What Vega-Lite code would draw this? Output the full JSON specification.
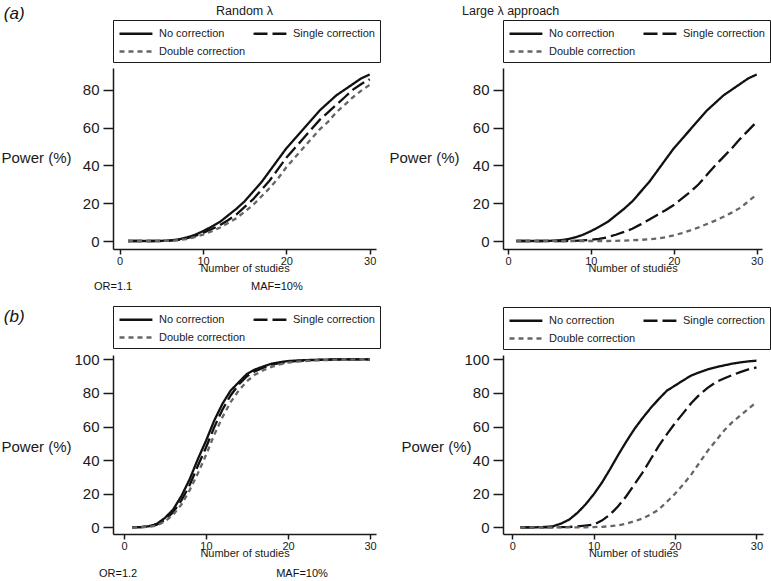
{
 "$schema": "https://vega.github.io/schema/vega-lite/v6.json",
 "padding": {"left": 0, "top": 4, "right": 5, "bottom": 5},
 "background": "white",
 "datasets": {
  "tl": [
   {"study":1,"No correction":0,"Single correction":0,"Double correction":0},
   {"study":2,"No correction":0,"Single correction":0,"Double correction":0},
   {"study":3,"No correction":0,"Single correction":0,"Double correction":0},
   {"study":4,"No correction":0,"Single correction":0,"Double correction":0},
   {"study":5,"No correction":0.1,"Single correction":0,"Double correction":0},
   {"study":6,"No correction":0.3,"Single correction":0.2,"Double correction":0.1},
   {"study":7,"No correction":0.8,"Single correction":0.6,"Double correction":0.4},
   {"study":8,"No correction":1.8,"Single correction":1.4,"Double correction":1},
   {"study":9,"No correction":3.2,"Single correction":2.6,"Double correction":2},
   {"study":10,"No correction":5.2,"Single correction":4.3,"Double correction":3.4},
   {"study":11,"No correction":7.5,"Single correction":6.2,"Double correction":5},
   {"study":12,"No correction":10,"Single correction":8.3,"Double correction":7},
   {"study":13,"No correction":13.5,"Single correction":11,"Double correction":9.5},
   {"study":14,"No correction":17,"Single correction":14,"Double correction":12},
   {"study":15,"No correction":21,"Single correction":18,"Double correction":15.5},
   {"study":16,"No correction":26,"Single correction":22,"Double correction":19},
   {"study":17,"No correction":31,"Single correction":27,"Double correction":23.5},
   {"study":18,"No correction":37,"Single correction":32,"Double correction":28},
   {"study":19,"No correction":43,"Single correction":38,"Double correction":33},
   {"study":20,"No correction":49,"Single correction":44,"Double correction":39},
   {"study":21,"No correction":54,"Single correction":49,"Double correction":44},
   {"study":22,"No correction":59,"Single correction":54,"Double correction":49},
   {"study":23,"No correction":64,"Single correction":59,"Double correction":54},
   {"study":24,"No correction":69,"Single correction":64,"Double correction":59},
   {"study":25,"No correction":73,"Single correction":68,"Double correction":63},
   {"study":26,"No correction":77,"Single correction":72,"Double correction":68},
   {"study":27,"No correction":80,"Single correction":76,"Double correction":72},
   {"study":28,"No correction":83,"Single correction":80,"Double correction":76},
   {"study":29,"No correction":86,"Single correction":83,"Double correction":79.5},
   {"study":30,"No correction":88,"Single correction":85.5,"Double correction":82.5}
  ],
  "tr": [
   {"study":1,"No correction":0,"Single correction":0,"Double correction":0},
   {"study":2,"No correction":0,"Single correction":0,"Double correction":0},
   {"study":3,"No correction":0,"Single correction":0,"Double correction":0},
   {"study":4,"No correction":0,"Single correction":0,"Double correction":0},
   {"study":5,"No correction":0.1,"Single correction":0,"Double correction":0},
   {"study":6,"No correction":0.3,"Single correction":0,"Double correction":0},
   {"study":7,"No correction":0.8,"Single correction":0,"Double correction":0},
   {"study":8,"No correction":1.8,"Single correction":0.1,"Double correction":0},
   {"study":9,"No correction":3.2,"Single correction":0.3,"Double correction":0},
   {"study":10,"No correction":5.2,"Single correction":0.6,"Double correction":0},
   {"study":11,"No correction":7.5,"Single correction":1.1,"Double correction":0},
   {"study":12,"No correction":10,"Single correction":2,"Double correction":0},
   {"study":13,"No correction":13.5,"Single correction":3.3,"Double correction":0.1},
   {"study":14,"No correction":17,"Single correction":4.8,"Double correction":0.2},
   {"study":15,"No correction":21,"Single correction":6.5,"Double correction":0.4},
   {"study":16,"No correction":26,"Single correction":8.8,"Double correction":0.6},
   {"study":17,"No correction":31,"Single correction":11.3,"Double correction":0.9},
   {"study":18,"No correction":37,"Single correction":13.8,"Double correction":1.3},
   {"study":19,"No correction":43,"Single correction":16.3,"Double correction":2},
   {"study":20,"No correction":49,"Single correction":19,"Double correction":3},
   {"study":21,"No correction":54,"Single correction":22.5,"Double correction":4.2},
   {"study":22,"No correction":59,"Single correction":26,"Double correction":5.6},
   {"study":23,"No correction":64,"Single correction":30,"Double correction":7.2},
   {"study":24,"No correction":69,"Single correction":35,"Double correction":9},
   {"study":25,"No correction":73,"Single correction":40,"Double correction":10.8},
   {"study":26,"No correction":77,"Single correction":44.5,"Double correction":12.8},
   {"study":27,"No correction":80,"Single correction":49,"Double correction":15},
   {"study":28,"No correction":83,"Single correction":54,"Double correction":17.5},
   {"study":29,"No correction":86,"Single correction":58.5,"Double correction":21},
   {"study":30,"No correction":88,"Single correction":63,"Double correction":24.6}
  ],
  "bl": [
   {"study":1,"No correction":0,"Single correction":0,"Double correction":0},
   {"study":2,"No correction":0.1,"Single correction":0.1,"Double correction":0},
   {"study":3,"No correction":0.6,"Single correction":0.4,"Double correction":0.3},
   {"study":4,"No correction":2,"Single correction":1.5,"Double correction":1},
   {"study":5,"No correction":5.6,"Single correction":4.5,"Double correction":3.5},
   {"study":6,"No correction":10.6,"Single correction":9,"Double correction":7.5},
   {"study":7,"No correction":18.6,"Single correction":16,"Double correction":13.5},
   {"study":8,"No correction":28.5,"Single correction":25,"Double correction":22},
   {"study":9,"No correction":40.5,"Single correction":36.5,"Double correction":32},
   {"study":10,"No correction":51.5,"Single correction":47.5,"Double correction":43},
   {"study":11,"No correction":63.5,"Single correction":59.5,"Double correction":55},
   {"study":12,"No correction":73.5,"Single correction":70,"Double correction":65.5},
   {"study":13,"No correction":81.4,"Single correction":78.5,"Double correction":74.5},
   {"study":14,"No correction":86.4,"Single correction":85,"Double correction":81.5},
   {"study":15,"No correction":91.4,"Single correction":90,"Double correction":87},
   {"study":16,"No correction":94,"Single correction":93,"Double correction":91},
   {"study":17,"No correction":95.8,"Single correction":95,"Double correction":93.5},
   {"study":18,"No correction":97.4,"Single correction":96.8,"Double correction":95.5},
   {"study":19,"No correction":98.3,"Single correction":97.8,"Double correction":97},
   {"study":20,"No correction":99,"Single correction":98.5,"Double correction":98},
   {"study":21,"No correction":99.3,"Single correction":99,"Double correction":98.6},
   {"study":22,"No correction":99.5,"Single correction":99.3,"Double correction":99},
   {"study":23,"No correction":99.7,"Single correction":99.5,"Double correction":99.3},
   {"study":24,"No correction":99.8,"Single correction":99.7,"Double correction":99.5},
   {"study":25,"No correction":99.9,"Single correction":99.8,"Double correction":99.6},
   {"study":26,"No correction":100,"Single correction":99.9,"Double correction":99.7},
   {"study":27,"No correction":100,"Single correction":100,"Double correction":99.8},
   {"study":28,"No correction":100,"Single correction":100,"Double correction":99.9},
   {"study":29,"No correction":100,"Single correction":100,"Double correction":100},
   {"study":30,"No correction":100,"Single correction":100,"Double correction":100}
  ],
  "br": [
   {"study":1,"No correction":0,"Single correction":0,"Double correction":0},
   {"study":2,"No correction":0,"Single correction":0,"Double correction":0},
   {"study":3,"No correction":0,"Single correction":0,"Double correction":0},
   {"study":4,"No correction":0.2,"Single correction":0,"Double correction":0},
   {"study":5,"No correction":0.6,"Single correction":0,"Double correction":0},
   {"study":6,"No correction":2.2,"Single correction":0.1,"Double correction":0},
   {"study":7,"No correction":4.6,"Single correction":0.2,"Double correction":0},
   {"study":8,"No correction":8.6,"Single correction":0.5,"Double correction":0},
   {"study":9,"No correction":13.6,"Single correction":1,"Double correction":0},
   {"study":10,"No correction":19.6,"Single correction":1.6,"Double correction":0.1},
   {"study":11,"No correction":26.5,"Single correction":4,"Double correction":0.3},
   {"study":12,"No correction":34.5,"Single correction":7.5,"Double correction":0.6},
   {"study":13,"No correction":43,"Single correction":12.5,"Double correction":1.2},
   {"study":14,"No correction":51,"Single correction":18.5,"Double correction":2.2},
   {"study":15,"No correction":58.5,"Single correction":25.5,"Double correction":3.6},
   {"study":16,"No correction":65,"Single correction":32.5,"Double correction":5.2},
   {"study":17,"No correction":71,"Single correction":40.5,"Double correction":7.6},
   {"study":18,"No correction":76.4,"Single correction":48.5,"Double correction":10.6},
   {"study":19,"No correction":81.4,"Single correction":55.5,"Double correction":15.2},
   {"study":20,"No correction":84.4,"Single correction":62,"Double correction":20},
   {"study":21,"No correction":87.5,"Single correction":68,"Double correction":25.5},
   {"study":22,"No correction":90.4,"Single correction":74,"Double correction":31.5},
   {"study":23,"No correction":92.3,"Single correction":79,"Double correction":38.5},
   {"study":24,"No correction":94,"Single correction":83,"Double correction":45.5},
   {"study":25,"No correction":95.3,"Single correction":86.4,"Double correction":51.5},
   {"study":26,"No correction":96.4,"Single correction":88.6,"Double correction":57.5},
   {"study":27,"No correction":97.4,"Single correction":90.6,"Double correction":62.5},
   {"study":28,"No correction":98.2,"Single correction":92.4,"Double correction":66.5},
   {"study":29,"No correction":98.8,"Single correction":94,"Double correction":70.5},
   {"study":30,"No correction":99.2,"Single correction":95.2,"Double correction":74.5}
  ],
  "lab_a": [{"label":"(a)","study":-13.9,"power":120.2}],
  "note_a": [{"label":"OR=1.1","study":-3.08,"power":-24.1},{"label":"MAF=10%","study":15.76,"power":-24.1}],
  "lab_b": [{"label":"(b)","study":-14.65,"power":125.2}],
  "note_b": [{"label":"OR=1.2","study":-3.05,"power":-27.7},{"label":"MAF=10%","study":18.56,"power":-27.7}]
 },
 "concat": [
  {
   "width": 263, "height": 181,
   "title": {"text": "Random λ", "anchor": "middle", "frame": "group", "offset": -4, "dy": 8.5},
   "encoding": {
    "x": {"field": "study", "type": "quantitative", "scale": {"domain": [-0.8, 30.76], "nice": false, "zero": false}, "axis": {"values": [0, 10, 20, 30], "title": "Number of studies"}},
    "y": {"field": "power", "type": "quantitative", "scale": {"domain": [-4.22, 91.45], "nice": false, "zero": false}, "axis": {"values": [0, 20, 40, 60, 80], "title": "Power (%)", "titleX": -42, "titleY": 89}}
   },
   "layer": [
    {
     "data": {"name": "tl"},
     "transform": [{"fold": ["No correction", "Single correction", "Double correction"], "as": ["method", "power"]}],
     "mark": {"type": "line", "strokeWidth": 2.3},
     "encoding": {
      "strokeDash": {"field": "method", "type": "nominal", "scale": {"domain": ["No correction", "Single correction", "Double correction"], "range": [[1, 0], [14, 5], [5, 4]]}, "legend": {"title": null}},
      "color": {"field": "method", "type": "nominal", "scale": {"domain": ["No correction", "Single correction", "Double correction"], "range": ["#111111", "#111111", "#666666"]}, "legend": {"title": null}}
     }
    },
    {
     "data": {"name": "lab_a"},
     "mark": {"type": "text", "align": "left", "baseline": "middle", "fontSize": 17, "fontStyle": "italic", "color": "#111111"},
     "encoding": {"text": {"field": "label"}}
    },
    {
     "data": {"name": "note_a"},
     "mark": {"type": "text", "align": "left", "baseline": "middle", "fontSize": 11, "color": "#111111"},
     "encoding": {"text": {"field": "label"}}
    }
   ]
  },
  {
   "width": 259, "height": 181,
   "title": {"text": "Large λ approach", "anchor": "start", "frame": "group", "offset": 2, "dx": -41},
   "encoding": {
    "x": {"field": "study", "type": "quantitative", "scale": {"domain": [-0.6, 30.64], "nice": false, "zero": false}, "axis": {"values": [0, 10, 20, 30], "title": "Number of studies"}},
    "y": {"field": "power", "type": "quantitative", "scale": {"domain": [-4.22, 91.45], "nice": false, "zero": false}, "axis": {"values": [0, 20, 40, 60, 80], "title": "Power (%)", "titleX": -44, "titleY": 89}}
   },
   "layer": [
    {
     "data": {"name": "tr"},
     "transform": [{"fold": ["No correction", "Single correction", "Double correction"], "as": ["method", "power"]}],
     "mark": {"type": "line", "strokeWidth": 2.3},
     "encoding": {
      "strokeDash": {"field": "method", "type": "nominal", "scale": {"domain": ["No correction", "Single correction", "Double correction"], "range": [[1, 0], [14, 5], [5, 4]]}, "legend": {"title": null}},
      "color": {"field": "method", "type": "nominal", "scale": {"domain": ["No correction", "Single correction", "Double correction"], "range": ["#111111", "#111111", "#666666"]}, "legend": {"title": null}}
     }
    }
   ]
  },
  {
   "width": 263, "height": 179,
   "encoding": {
    "x": {"field": "study", "type": "quantitative", "scale": {"domain": [-1.34, 30.73], "nice": false, "zero": false}, "axis": {"values": [0, 10, 20, 30], "title": "Number of studies"}},
    "y": {"field": "power", "type": "quantitative", "scale": {"domain": [-4.0, 102.6], "nice": false, "zero": false}, "axis": {"values": [0, 20, 40, 60, 80, 100], "title": "Power (%)", "titleX": -42, "titleY": 91}}
   },
   "layer": [
    {
     "data": {"name": "bl"},
     "transform": [{"fold": ["No correction", "Single correction", "Double correction"], "as": ["method", "power"]}],
     "mark": {"type": "line", "strokeWidth": 2.3},
     "encoding": {
      "strokeDash": {"field": "method", "type": "nominal", "scale": {"domain": ["No correction", "Single correction", "Double correction"], "range": [[1, 0], [14, 5], [5, 4]]}, "legend": {"title": null}},
      "color": {"field": "method", "type": "nominal", "scale": {"domain": ["No correction", "Single correction", "Double correction"], "range": ["#111111", "#111111", "#666666"]}, "legend": {"title": null}}
     }
    },
    {
     "data": {"name": "lab_b"},
     "mark": {"type": "text", "align": "left", "baseline": "middle", "fontSize": 17, "fontStyle": "italic", "color": "#111111"},
     "encoding": {"text": {"field": "label"}}
    },
    {
     "data": {"name": "note_b"},
     "mark": {"type": "text", "align": "left", "baseline": "middle", "fontSize": 11, "color": "#111111"},
     "encoding": {"text": {"field": "label"}}
    }
   ]
  },
  {
   "width": 260, "height": 179,
   "encoding": {
    "x": {"field": "study", "type": "quantitative", "scale": {"domain": [-1.14, 30.8], "nice": false, "zero": false}, "axis": {"values": [0, 10, 20, 30], "title": "Number of studies"}},
    "y": {"field": "power", "type": "quantitative", "scale": {"domain": [-4.0, 102.6], "nice": false, "zero": false}, "axis": {"values": [0, 20, 40, 60, 80, 100], "title": "Power (%)", "titleX": -32, "titleY": 91}}
   },
   "layer": [
    {
     "data": {"name": "br"},
     "transform": [{"fold": ["No correction", "Single correction", "Double correction"], "as": ["method", "power"]}],
     "mark": {"type": "line", "strokeWidth": 2.3},
     "encoding": {
      "strokeDash": {"field": "method", "type": "nominal", "scale": {"domain": ["No correction", "Single correction", "Double correction"], "range": [[1, 0], [14, 5], [5, 4]]}, "legend": {"title": null}},
      "color": {"field": "method", "type": "nominal", "scale": {"domain": ["No correction", "Single correction", "Double correction"], "range": ["#111111", "#111111", "#666666"]}, "legend": {"title": null}}
     }
    }
   ]
  }
 ],
 "columns": 2,
 "spacing": {"row": 106, "column": 127},
 "bounds": "flush",
 "resolve": {"scale": {"x": "independent", "y": "independent", "color": "independent", "strokeDash": "independent"}, "legend": {"color": "independent", "strokeDash": "independent"}},
 "config": {
  "font": "Liberation Sans",
  "view": {"stroke": null},
  "axis": {"grid": false, "domainColor": "#1a1a1a", "domainWidth": 1.5, "tickColor": "#1a1a1a", "tickWidth": 1.5, "labelColor": "#1a1a1a", "titleColor": "#1a1a1a", "labelFont": "Liberation Sans", "titleFont": "Liberation Sans", "titleFontWeight": "normal", "labelFlush": false, "labelOverlap": false},
  "axisX": {"tickSize": 5, "labelFontSize": 11, "labelPadding": 1, "titleFontSize": 11, "titlePadding": -4},
  "axisY": {"tickSize": 10, "labelFontSize": 15, "labelPadding": 4, "titleFontSize": 15, "titleAngle": 0, "titleAlign": "right", "titleBaseline": "middle", "titlePadding": 10},
  "legend": {"orient": "top", "direction": "horizontal", "columns": 2, "symbolType": "M-1,0H3.7", "symbolSize": 196, "symbolStrokeWidth": 2.3, "labelFontSize": 11, "labelFont": "Liberation Sans", "labelColor": "#1a1a1a", "labelLimit": 0, "labelOffset": 24, "strokeColor": "#1a1a1a", "padding": 5, "columnPadding": 2, "rowPadding": 4, "offset": 6},
  "title": {"fontSize": 12.5, "fontWeight": "normal", "font": "Liberation Sans", "color": "#1a1a1a"}
 }
}
